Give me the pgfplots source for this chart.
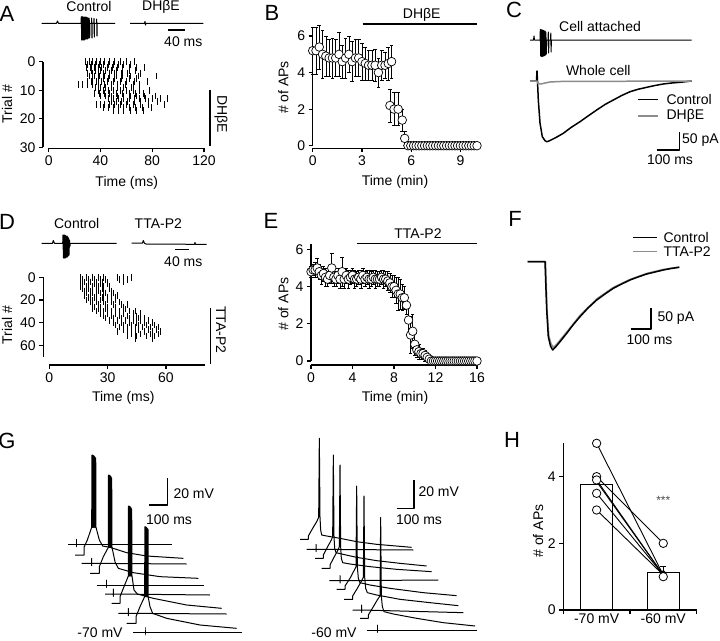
\documentclass[border=0pt]{standalone}
\usepackage{pgfplots}
\pgfplotsset{compat=1.18}
\usepackage{pgfplotstable}
\usepackage{fontspec}
\setmainfont{Liberation Sans}
\setsansfont{Liberation Sans}

\pgfplotsset{
  panel/.style={
    scale only axis, axis lines=left, axis line style={-, line width=1.2pt},
    tick align=outside, major tick length=4pt,
    tick style={line width=1.2pt, black},
    tick label style={font=\fontsize{14}{16}\selectfont},
    /pgf/number format/assume math mode=true,
    clip=false, anchor=south west,
  },
  canvas/.style={
    scale only axis, hide axis, clip=false, y dir=reverse, anchor=south west,
  },
  trace/.style={black, line width=1pt, line join=round, mark=none},
  raster/.style={black, only marks, mark=|, mark size=3.4pt, mark options={line width=0.55pt}},
  circ/.style={black, only marks, mark=*, mark size=4.3pt,
    mark options={fill=white, draw=black, line width=0.7pt},
    error bars/.cd, y dir=both, y explicit,
    error bar style={line width=0.6pt, black},
    error mark options={rotate=90, mark size=1.8pt, line width=0.6pt, black}},
}

% time (min), # of APs, SEM
\pgfplotstableread{
t n e
0.0 5.2 1.3
0.2 5.2 1.3
0.4 5.4 1.2
0.6 5.0 1.3
0.8 4.9 1.1
1.0 4.8 1.0
1.2 4.8 1.1
1.4 4.8 1.0
1.6 5.0 1.2
1.8 4.6 0.9
2.0 4.8 1.1
2.2 5.0 1.0
2.4 4.6 1.1
2.6 4.8 1.0
2.8 4.8 1.0
3.0 4.6 1.0
3.2 4.5 0.9
3.4 4.4 0.8
3.6 4.4 0.8
3.8 4.4 0.9
4.0 4.0 0.8
4.2 4.4 0.8
4.4 4.4 0.7
4.6 4.5 0.9
4.8 4.6 0.9
4.7 2.2 0.9
4.95 2.0 0.9
5.2 2.0 0.9
5.45 1.4 0.6
5.6 0.4 0.4
5.80 0 0
5.97 0 0
6.14 0 0
6.30 0 0
6.47 0 0
6.64 0 0
6.81 0 0
6.98 0 0
7.14 0 0
7.31 0 0
7.48 0 0
7.65 0 0
7.82 0 0
7.98 0 0
8.15 0 0
8.32 0 0
8.49 0 0
8.66 0 0
8.82 0 0
8.99 0 0
9.16 0 0
9.33 0 0
9.50 0 0
9.66 0 0
9.83 0 0
10.00 0 0
}\dhbe

\pgfplotstableread{
t n e
0.0 4.8 0.3
0.2 4.9 0.3
0.4 4.9 0.4
0.6 5.0 0.5
0.8 4.8 0.4
1.0 4.6 0.5
1.2 4.7 0.4
1.4 4.5 0.5
1.6 4.4 0.4
1.8 4.6 0.4
2.0 5.0 0.8
2.2 4.5 0.5
2.4 4.4 0.4
2.6 4.6 0.4
2.8 4.4 0.5
3.0 4.8 0.8
3.2 4.4 0.5
3.4 4.6 0.4
3.6 4.4 0.5
3.8 4.5 0.4
4.0 4.6 0.4
4.2 4.4 0.5
4.4 4.4 0.4
4.6 4.5 0.4
4.8 4.4 0.5
5.0 4.6 0.4
5.2 4.4 0.4
5.4 4.5 0.4
5.6 4.4 0.5
5.8 4.4 0.4
6.0 4.5 0.4
6.2 4.4 0.5
6.4 4.4 0.4
6.6 4.4 0.4
6.8 4.5 0.4
7.0 4.4 0.5
7.2 4.4 0.4
7.4 4.3 0.5
7.6 4.2 0.5
7.8 4.0 0.6
8.0 4.0 0.6
8.2 3.8 0.7
8.4 3.6 0.9
8.6 3.6 0.8
8.8 3.4 0.7
9.0 3.4 0.6
9.2 3.0 0.5
9.4 2.2 0.8
9.6 1.4 1.0
9.8 1.6 0.9
10.0 0.9 0.6
10.2 0.6 0.4
10.4 0.5 0.4
10.6 0.4 0.3
10.8 0.4 0.3
11.0 0.3 0.3
11.2 0.2 0.2
11.4 0.1 0.1
11.6 0 0
11.8 0 0
12.0 0 0
12.2 0 0
12.4 0 0
12.6 0 0
12.8 0 0
13.0 0 0
13.2 0 0
13.4 0 0
13.6 0 0
13.8 0 0
14.0 0 0
14.2 0 0
14.4 0 0
14.6 0 0
14.8 0 0
15.0 0 0
15.2 0 0
15.4 0 0
15.6 0 0
15.8 0 0
16.0 0 0
}\ttap

\begin{document}
\begin{tikzpicture}[font=\fontsize{14}{16}\selectfont]
\path[use as bounding box] (0,0) rectangle (720pt,640pt);

% ---------- A raster
\begin{axis}[panel, at={(48.7pt,492.5pt)}, width=155.3pt, height=85.8pt,
  xmin=0, xmax=120, ymin=-30, ymax=0,
  axis x line shift=1pt, axis y line shift=5.7pt,
  xtick={0,40,80,120}, ytick={0,-10,-20,-30}, yticklabels={0,10,20,30}]
\addplot[raster] coordinates {
(28,0)(31,0)(34,0)(37,0)(40,0)(43,0)(47,0)(51,0)(55,0)(60,0)(66,0)
(30,-1)(33,-1)(36,-1)(39,-1)(42,-1)(46,-1)(50,-1)(54,-1)(58,-1)(63,-1)
(29,-2)(32,-2)(35,-2)(38,-2)(41,-2)(45,-2)(49,-2)(53,-2)(57,-2)(62,-2)(68,-2)(74,-2)
(33,-3)(36,-3)(40,-3)(44,-3)(48,-3)(52,-3)(57,-3)(62,-3)(67,-3)
(30,-4)(34,-4)(38,-4)(42,-4)(47,-4)(51,-4)(56,-4)(61,-4)(71,-4)
(31,-5)(35,-5)(39,-5)(43,-5)(47,-5)(52,-5)(57,-5)(63,-5)(69,-5)(83,-5)
(34,-6)(38,-6)(42,-6)(46,-6)(51,-6)(56,-6)(62,-6)(68,-6)
(30,-7)(33,-7)(37,-7)(41,-7)(45,-7)(50,-7)(55,-7)(60,-7)(66,-7)(76,-7)
(23,-8)(26,-8)(30,-8)(34,-8)(38,-8)(43,-8)(48,-8)(53,-8)(59,-8)(65,-8)(70,-8)
(36,-9)(40,-9)(44,-9)(48,-9)(53,-9)(58,-9)(64,-9)
(38,-10)(42,-10)(46,-10)(50,-10)(55,-10)(60,-10)(65,-10)(70,-10)(78,-10)
(35,-11)(39,-11)(43,-11)(47,-11)(52,-11)(57,-11)(62,-11)(67,-11)(73,-11)
(40,-12)(44,-12)(48,-12)(53,-12)(58,-12)(63,-12)(68,-12)(74,-12)(82,-12)
(46,-13)(50,-13)(54,-13)(58,-13)(62,-13)(66,-13)(70,-13)(75,-13)(80,-13)(86,-13)(92,-13)
(48,-14)(52,-14)(56,-14)(61,-14)(66,-14)(71,-14)(77,-14)(84,-14)
(37,-15)(40,-15)(43,-15)(47,-15)(51,-15)(55,-15)(60,-15)(65,-15)(71,-15)(77,-15)(89,-15)
(42,-16)(46,-16)(50,-16)(54,-16)(58,-16)(62,-16)(67,-16)(72,-16)(79,-16)
(50,-17)(54,-17)(58,-17)(63,-17)(68,-17)(73,-17)
};
\end{axis}

% ---------- D raster
\begin{axis}[panel, at={(49.3pt,283.4pt)}, width=155.5pt, height=79.3pt,
  xmin=0, xmax=80, ymin=-70, ymax=0,
  axis x line shift=8.4pt, axis y line shift=6pt,
  xtick={0,30,60}, ytick={0,-20,-40,-60}, yticklabels={0,20,40,60}]
\addplot[raster, mark size=3.2pt] coordinates {
(16,0)(19,0)(22,0)(25,0)(28,0)(35,0)(38,0)(42,0)
(17,-2)(20,-2)(23,-2)(26,-2)(29,-2)(36,-2)(40,-2)
(16,-4)(18,-4)(21,-4)(24,-4)(27,-4)(30,-4)(38,-4)
(17,-6)(20,-6)(23,-6)(26,-6)(30,-6)
(16,-8)(19,-8)(22,-8)(25,-8)(28,-8)(31,-8)
(17,-10)(20,-10)(24,-10)(27,-10)(31,-10)
(18,-12)(21,-12)(25,-12)(28,-12)(32,-12)
(19,-14)(22,-14)(26,-14)(29,-14)(33,-14)
(18,-16)(21,-16)(24,-16)(28,-16)(32,-16)(35,-16)
(20,-18)(23,-18)(27,-18)(30,-18)(34,-18)
(19,-20)(22,-20)(26,-20)(30,-20)(34,-20)
(21,-22)(24,-22)(28,-22)(32,-22)(36,-22)
(22,-24)(25,-24)(29,-24)(33,-24)(37,-24)(40,-24)
(23,-26)(26,-26)(30,-26)(34,-26)(38,-26)
(22,-28)(25,-28)(29,-28)(34,-28)(39,-28)
(24,-30)(28,-30)(32,-30)(36,-30)(41,-30)(44,-30)
(26,-32)(30,-32)(34,-32)(38,-32)(43,-32)(47,-32)
(28,-34)(32,-34)(36,-34)(40,-34)(45,-34)
(29,-36)(33,-36)(37,-36)(41,-36)(46,-36)(49,-36)
(31,-38)(35,-38)(39,-38)(43,-38)(47,-38)(51,-38)
(33,-40)(37,-40)(41,-40)(45,-40)(49,-40)(53,-40)
(34,-42)(38,-42)(42,-42)(46,-42)(50,-42)(54,-42)
(36,-44)(40,-44)(44,-44)(48,-44)(52,-44)(56,-44)
(38,-46)(42,-46)(46,-46)(51,-46)(55,-46)
(35,-48)(40,-48)(44,-48)(49,-48)(53,-48)(57,-48)
(42,-50)(47,-50)(52,-50)(56,-50)
(40,-52)(45,-52)(50,-52)(54,-52)
(44,-54)(53,-54)
};
\end{axis}

% ---------- B
\begin{axis}[panel, at={(312.7pt,494.3pt)}, width=164.3pt, height=118.8pt,
  xmin=0, xmax=10, ymin=0, ymax=6.5, axis x line shift=2.5pt,
  xtick={0,3,6,9}, ytick={0,2,4,6}]
\addplot[circ] table[x=t, y=n, y error=e] {\dhbe};
\end{axis}

% ---------- E
\begin{axis}[panel, at={(311pt,279pt)}, width=166pt, height=117.2pt,
  xmin=0, xmax=16, ymin=0, ymax=6.3, axis x line shift=4pt,
  xtick={0,4,8,12,16}, ytick={0,2,4,6}]
\addplot[circ] table[x=t, y=n, y error=e] {\ttap};
\end{axis}

% ---------- H
\begin{axis}[panel, at={(563.3pt,30pt)}, width=133.3pt, height=166.7pt,
  xmin=0, xmax=2, ymin=0, ymax=5,
  xtick={0,1,2}, xticklabels={,,}, ytick={0,2,4},
  extra x ticks={0.5,1.5}, extra x tick labels={-70 mV,-60 mV},
  extra x tick style={major tick length=0pt}]
\addplot[ybar, bar width=32pt, fill=white, draw=black, line width=1.2pt] coordinates {(0.5,3.77) (1.5,1.12)};
\addplot[black, only marks, mark=none, error bars/.cd, y dir=plus, y explicit,
  error bar style={line width=1pt}, error mark options={rotate=90, mark size=3pt, line width=1pt}]
  coordinates {(1.5,1.12) +- (0,0.18)};
\addplot[black, line width=0.9pt] coordinates {(0.5,5.0) (1.5,1.05)};
\addplot[black, line width=0.9pt] coordinates {(0.5,4.0) (1.5,2.0)};
\addplot[black, line width=0.9pt] coordinates {(0.5,3.9) (1.5,1.05)};
\addplot[black, line width=0.9pt] coordinates {(0.5,3.85) (1.5,1.05)};
\addplot[black, line width=0.9pt] coordinates {(0.5,3.5) (1.5,1.05)};
\addplot[black, line width=0.9pt] coordinates {(0.5,3.0) (1.5,1.05)};
\addplot[black, only marks, mark=*, mark size=4.2pt, mark options={fill=white, line width=0.8pt}]
  coordinates {(0.5,5.0) (0.5,4.0) (0.5,3.9) (0.5,3.5) (0.5,3.0) (1.5,2.0) (1.5,1.0)};
\node[font=\fontsize{12}{14}\selectfont, text=black!70] at (axis cs:1.5,3.3) {***};
\end{axis}

% ---------- G left (digitised units)
\begin{axis}[canvas, at={(60pt,0pt)}, width=190pt, height=200pt,
  xmin=0, xmax=570, ymin=0, ymax=600]
\addplot[trace] coordinates {(25,313) (50,313) (50,298) (50,320) (50,313) (335,313)};
\addplot[trace] coordinates {(65,370) (95,370) (95,355) (95,377) (95,370) (380,372)};
\addplot[trace] coordinates {(110,435) (140,435) (140,420) (140,442) (140,435) (432,435)};
\addplot[trace] coordinates {(135,462) (160,462) (160,447) (160,469) (160,462) (450,465)};
\addplot[trace] coordinates {(175,520) (205,520) (205,505) (205,527) (205,520) (500,522)};
\addplot[trace] coordinates {(220,578) (255,578) (255,563) (255,585) (255,578) (545,578)};
\addplot[trace] coordinates {(45,345) (72,345) (72,322) (82,300) (95,262)
 (96,45) (96.8,262) (97.6,45) (98.4,262) (99.2,46) (100,262) (100.8,47) (101.6,262) (102.4,48)
 (103.2,262) (104,50) (104.8,262) (105.6,52) (106.4,262) (107.2,55) (108,262)
 (118,300) (128,318) (150,322) (200,338) (260,348) (370,355)};
\addplot[trace] coordinates {(90,400) (118,400) (118,380) (130,350) (145,322)
 (145.5,105) (146.3,322) (147.1,105) (147.9,322) (148.7,106) (149.5,322) (150.3,107) (151.1,322)
 (151.9,109) (152.7,322) (153.5,111) (154.3,322) (155.1,114) (156,322)
 (165,365) (175,385) (220,398) (300,410) (415,415)};
\addplot[trace] coordinates {(155,490) (180,490) (180,470) (192,440) (205,408)
 (205.5,198) (206.3,408) (207.1,198) (207.9,408) (208.7,199) (209.5,408) (210.3,200) (211.1,408)
 (211.9,202) (212.7,408) (213.5,204) (214.3,408) (215.1,207) (216,408)
 (222,450) (232,462) (280,475) (380,495) (485,505)};
\addplot[trace] coordinates {(200,550) (228,550) (228,530) (240,500) (254,470)
 (254.5,260) (255.3,470) (256.1,260) (256.9,470) (257.7,261) (258.5,470) (259.3,262) (260.1,470)
 (260.9,264) (261.7,470) (262.5,266) (263.3,470) (264,268) (264.5,470)
 (270,500) (278,520) (320,535) (420,555) (530,565)};
\end{axis}

% ---------- G right (digitised units)
\begin{axis}[canvas, at={(290pt,0pt)}, width=190pt, height=210pt,
  xmin=0, xmax=570, ymin=0, ymax=630]
\addplot[trace] coordinates {(50,358) (78,358) (78,343) (78,365) (78,358) (370,360)};
\addplot[trace] coordinates {(118,452) (150,452) (150,437) (150,459) (150,452) (445,450)};
\addplot[trace] coordinates {(188,540) (215,540) (215,525) (215,547) (215,540) (520,548)};
\addplot[trace] coordinates {(230,600) (262,600) (262,585) (262,607) (262,600) (560,600)};
\addplot[trace] coordinates {(30,328) (55,328) (55,318) (68,295) (80,275) (86,262) (88,25) (90,262) (92,300) (95,315) (110,318) (150,325) (200,335) (260,343) (365,352)};
\addplot[trace] coordinates {(75,385) (100,385) (100,375) (113,350) (124,330) (128,320) (130,75) (132,320) (134,355) (138,368) (155,372) (200,382) (260,392) (330,400) (410,408)};
\addplot[trace] coordinates {(95,415) (120,415) (120,405) (133,380) (144,360) (148,350) (150,105) (152,350) (154,385) (158,398) (180,402) (240,410) (320,418) (425,425)};
\addplot[trace] coordinates {(140,478) (165,478) (165,468) (180,445) (193,420) (198,410) (200,168) (202,410) (205,445) (210,458) (240,465) (300,475) (400,488) (500,497)};
\addplot[trace] coordinates {(162,508) (188,508) (188,498) (202,475) (215,452) (220,442) (222,198) (224,442) (227,475) (232,488) (260,495) (330,508) (420,518) (505,527)};
\addplot[trace] coordinates {(210,565) (235,565) (235,555) (250,530) (263,508) (270,498) (272,262) (274,498) (277,530) (282,545) (310,552) (380,565) (460,578) (555,588)};
\end{axis}

% ---------- canvas in pixel units: traces, bars, labels
\begin{axis}[canvas, at={(0pt,0pt)}, width=720pt, height=640pt,
  xmin=0, xmax=720, ymin=0, ymax=640]
% A traces
\addplot[trace] coordinates {(41.7,23.3) (56.5,23.3) (57.5,21) (58.5,23.3) (81,23.3)
 (81.3,16.7) (81.7,40) (82.2,16.7) (82.7,40) (83.2,17) (83.7,40) (84.2,17) (84.7,40) (85.2,17)
 (85.7,39) (86.2,17) (86.7,39) (87.2,17.5) (87.7,39) (88.2,18) (88.7,38) (89.2,18) (89.7,38)
 (90,23.3) (91.5,23.3) (91.7,18) (92,38) (92.2,23.3) (93.8,23.3) (94,18.5) (94.3,37) (94.5,23.3)
 (96.5,23.3) (96.7,19) (97,36) (97.2,23.3) (115,23.3)};
\addplot[trace] coordinates {(130,23.3) (144.5,23.3) (145,21.5) (145.5,25) (146,23.3) (203.3,23.3)};
\addplot[trace, line width=1.3pt] coordinates {(168.3,30) (185,30)};
\addplot[trace, line width=1.3pt] coordinates {(210,90) (210,146)};
% D traces
\addplot[trace] coordinates {(41.7,243.3) (52.5,243.3) (53.3,240.5) (54.5,243.3) (62.7,243.3)
 (63,235) (63.4,258) (63.8,235) (64.2,258) (64.6,235) (65,258) (65.4,235.5) (65.8,257.5)
 (66.2,236) (66.6,257) (67,236) (67.4,257) (67.8,237) (68.2,256) (68.6,238) (69,255)
 (69.5,240) (70,246) (70.3,243.3) (116.7,243.3)};
\addplot[trace] coordinates {(131.7,243) (142.5,243) (143.3,240.5) (144.5,243.3) (146,244) (194.5,244.3) (195,242.5) (195.5,244.3) (206.7,244.3)};
\addplot[trace, line width=1.3pt] coordinates {(175,249.3) (189.3,249.3)};
\addplot[trace, line width=1.3pt] coordinates {(210.7,308.3) (210.7,364)};
% B, E drug bars
\addplot[trace, line width=1.3pt] coordinates {(362.7,24) (476.7,24)};
\addplot[trace, line width=1.3pt] coordinates {(357.3,243.3) (476.7,243.3)};
% C traces
\addplot[trace] coordinates {(530,40) (533.5,40) (534,36) (534.5,40) (540,40)
 (540.3,29.5) (540.7,56) (541.1,29.5) (541.5,56.5) (541.9,30) (542.3,56.5) (542.7,30) (543.1,56)
 (543.5,30.5) (543.9,56) (544.3,31) (544.7,55.5) (545.1,31) (545.5,55) (545.9,32) (546.3,54)
 (546.7,40) (548,40) (548.3,32) (548.6,53) (549,40) (550.5,40) (550.8,33) (551.1,52) (551.4,40)
 (691.7,40)};
\addplot[trace, line width=1.5pt] coordinates {(530,81) (536.5,81) (537,71) (537.5,81) (538.3,100) (540,123)
 (542.3,136.7) (545,140.7) (546.7,141.7) (549,141) (552,139.5) (556,137.5) (563.3,133.3)
 (571,127.5) (580,121.7) (588,116) (596.7,110) (605,104.5) (613.3,100) (621.7,95.5) (630,91.7)
 (638,89.3) (646.7,87.3) (655,85.5) (663.3,84) (671.7,83) (680,82.3) (691.7,81)};
\addplot[trace, black!45, line width=1.5pt] coordinates {(530,81) (537,81) (538,83.5) (541,84) (545,83) (550,82) (560,81.5) (691.7,81)};
\addplot[trace, line width=1.3pt] coordinates {(638.3,99.3) (658.3,99.3)};
\addplot[trace, black!45, line width=1.3pt] coordinates {(638.3,116) (658.3,116)};
\addplot[trace, line width=1.3pt] coordinates {(656.7,150) (679.3,150) (679.3,131.7)};
% F traces
\addplot[trace, black!45, line width=1.6pt] coordinates {(527.7,261.7) (545.5,261.7) (547,310)
 (548.8,336) (551,344) (553.5,347.5) (557,344) (561,339) (567.7,331) (580,315.5) (596.7,299)
 (613.3,287.5) (630,279.5) (646.7,273.5) (663.3,269.5) (679.3,267)};
\addplot[trace, line width=1.5pt] coordinates {(527.7,261.7) (545,261.7) (546.7,310) (548.3,336.7) (550.5,346)
 (552.7,350) (556,346.5) (560,341.7) (566.7,333.3) (573,325) (580,316.7) (588,308) (596.7,300)
 (605,294) (613.3,288.3) (621.7,284) (630,280) (638,277) (646.7,274) (655,272) (663.3,270)
 (671,268.5) (679.3,267.3)};
\addplot[trace, line width=1.3pt] coordinates {(633.3,237.3) (656.7,237.3)};
\addplot[trace, black!45, line width=1.3pt] coordinates {(633.3,251.7) (656.7,251.7)};
\addplot[trace, line width=1.3pt] coordinates {(630.7,329) (651,329) (651,308.3)};
% G scale bars
\addplot[trace, line width=1.3pt] coordinates {(149.3,505) (167.3,505) (167.3,478.3)};
\addplot[trace, line width=1.3pt] coordinates {(396.7,508.3) (414,508.3) (414,480)};

% panel letters
\begin{scope}[font=\fontsize{22}{24}\selectfont]
\node at (7,13.5) {A};
\node at (272,12.5) {B};
\node at (514,10) {C};
\node at (7,222) {D};
\node at (271,221) {E};
\node at (515,219) {F};
\node at (7,441) {G};
\node at (512,440) {H};
\end{scope}
% A texts
\node at (89,6.5) {Control};
\node at (161,6.5) {DHβE};
\node at (183.3,41.7) {40 ms};
\node at (126.7,182.7) {Time (ms)};
\node[rotate=90] at (7,104) {Trial \#};
\node[rotate=-90] at (221,114.5) {DHβE};
% B texts
\node at (421.7,15) {DHβE};
\node at (395,181.7) {Time (min)};
\node[rotate=90] at (283.3,87.5) {\# of APs};
% C texts
\node at (600,26.7) {Cell attached};
\node at (598.3,70) {Whole cell};
\node[anchor=west] at (663,99.3) {Control};
\node[anchor=west] at (663,116) {DHβE};
\node[anchor=west, inner xsep=1pt] at (681,140) {50 pA};
\node at (670,159.3) {100 ms};
% D texts
\node at (76.7,223.3) {Control};
\node at (158.3,223.3) {TTA-P2};
\node at (183.3,261.7) {40 ms};
\node at (123.3,398.3) {Time (ms)};
\node[rotate=90] at (7,325) {Trial \#};
\node[rotate=-90] at (221,330) {TTA-P2};
% E texts
\node at (418,233.3) {TTA-P2};
\node at (395,398) {Time (min)};
\node[rotate=90] at (283.3,304) {\# of APs};
% F texts
\node[anchor=west] at (660,237.3) {Control};
\node[anchor=west] at (660,251.7) {TTA-P2};
\node[anchor=west] at (654,318.3) {50 pA};
\node at (649.5,340) {100 ms};
% G texts
\node[anchor=west] at (170,493.3) {20 mV};
\node at (169,520) {100 ms};
\node[anchor=west] at (415,491.7) {20 mV};
\node at (419,519.3) {100 ms};
\node at (100,633) {-70 mV};
\node at (334,633) {-60 mV};
% H texts
\node[rotate=90] at (538,531) {\# of APs};
\end{axis}
\end{tikzpicture}
\end{document}
